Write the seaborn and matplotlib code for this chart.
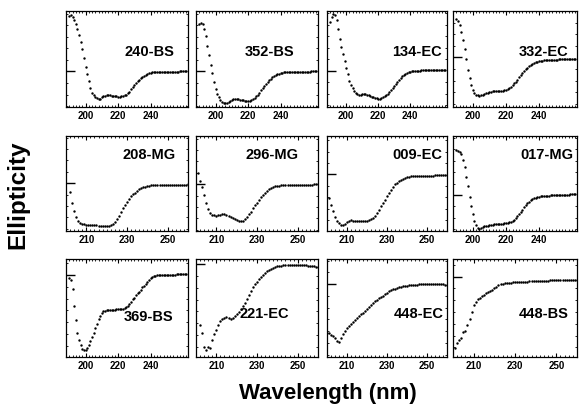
import numpy as np
import matplotlib
matplotlib.use("Agg")
import matplotlib.pyplot as plt
import seaborn as sns
from matplotlib.ticker import MultipleLocator

names = ["240-BS", "352-BS", "134-EC", "332-EC",
         "208-MG", "296-MG", "009-EC", "017-MG",
         "369-BS", "221-EC", "448-EC", "448-BS"]

# first wavelength (nm) of each trace, 1 nm steps
start_nm = [190, 190, 190, 190,
            202, 201, 201, 190,
            190, 202, 200, 201]

# level of the zero mark on the left axis (% of panel height)
zero_level = [37, 37, 37.7, 51.6,
              50.4, 49.3, 59.5, 37.9,
              83.6, 94.5, 74.4, 81.9]

bs240 = [94.8, 95.8, 94, 91, 86, 81, 75, 68, 60, 51, 42, 34, 27, 20, 15, 12, 10, 9, 8.5, 8.5,
         10, 11, 11, 12, 12, 12, 11.5, 11, 11, 11, 10.5, 10.5, 11, 11, 12, 13, 14.5, 16, 19, 21,
         23, 25, 27, 28, 30, 31.5, 32.5, 33.5, 34.5, 35, 35.5, 36,
         36.3, 36.5, 36.6, 36.6, 36.7, 36.7, 36.7, 36.8, 36.8, 36.8, 36.8, 36.9, 36.9, 36.9, 36.9,
         36.9, 37, 37, 37, 37, 37]
bs352 = [86, 88, 86, 81, 74, 64, 54, 44, 35, 26, 19, 14, 10, 7, 5.5, 4.5, 4, 4.5, 5.5, 6.5,
         7.5, 8, 8.5, 8.5, 8, 7.5, 7, 7, 6.5, 6.5, 6.5, 6.5, 7, 8, 9.5, 11, 13, 15, 17.5, 20,
         22, 24, 26, 28, 29.5, 31, 32, 33, 34, 34.5, 35, 35.5, 36,
         36.3, 36.5, 36.5, 36.6, 36.6, 36.7, 36.7, 36.7, 36.8, 36.8, 36.8, 36.8, 36.9, 36.9, 36.9,
         36.9, 37, 37, 37, 37]
ec134 = [89, 94, 97, 96, 91, 81, 71, 62, 55, 48, 41, 34, 27, 23, 20, 17, 15, 14, 13, 13,
         13.5, 14, 14, 12.5, 12, 11, 10.5, 10, 9.5, 9, 8.7, 8.5, 9, 10, 11, 12.5, 14, 16, 18, 20,
         22, 24, 26, 28.5, 30.5, 32, 33.5, 34.5, 35.5, 36, 36.5, 37, 37.5,
         37.8, 38, 38, 38, 38.1, 38.1, 38.1, 38.2, 38.2, 38.2, 38.2, 38.3, 38.3, 38.3, 38.3, 38.3,
         38.4, 38.4, 38.4, 38.4]
ec332 = [92, 89.5, 85.5, 78.5, 70, 60, 49.5, 39, 30, 23, 18, 15, 13, 12, 11.8, 12.3, 13, 14, 14.5, 15,
         15.5, 16, 17, 17, 17, 17, 17, 17, 17, 17.5, 18, 18.5, 19.5, 21, 23, 24.5, 26.5, 28.5, 31, 33,
         35.5, 37.5, 39.5, 41, 42.5, 44, 45, 46, 46.5, 47, 47.5, 48,
         48.3, 48.5, 48.6, 48.8, 48.9, 49, 49.1, 49.2, 49.3, 49.4, 49.5, 49.5, 49.6, 49.7, 49.8,
         49.8, 49.9, 50, 50, 50.1, 50.2]
mg208 = [41, 30, 21, 15, 11, 8.5, 7.5, 7, 6.5, 6.3, 6, 6, 6, 5.8, 5.7, 5.5, 5.2, 5, 5, 5.5,
         6.5, 7.5, 10, 12.5, 16, 20, 24, 27.5, 31, 34, 37, 39, 40.5, 42.5, 44, 45, 46, 46.8, 47.2, 47.6,
         48, 48.2, 48.3, 48.4, 48.5, 48.5, 48.6, 48.6, 48.7, 48.7, 48.7, 48.8, 48.8, 48.8, 48.9,
         48.9, 48.9, 48.9, 49]
mg296 = [61, 53, 46, 38, 30, 23, 19, 17, 16.5, 16.3, 16.5, 17, 17.5, 17.5, 17, 16, 15, 14, 13, 12,
         11, 10.6, 11, 13, 15, 17.5, 20.5, 24, 27, 30, 32.5, 35.5, 38, 40.5, 42.5, 44, 45.3, 46.3, 47,
         47.5, 47.8, 48,
         48.2, 48.3, 48.4, 48.5, 48.5, 48.6, 48.6, 48.7, 48.7, 48.8, 48.8, 48.8, 48.9, 48.9, 48.9,
         49, 49, 49]
ec009 = [35, 27, 21, 15, 11, 8, 6.7, 6.7, 7.5, 9, 10.5, 11.3, 11, 10.6, 10.5, 10.4, 10.3, 10.3, 10.3,
         10.8, 11.5, 12.5, 14, 16, 19, 22.5, 26, 29.5, 33, 37, 40.5, 43.5, 46.5, 49, 51, 52.5, 53.8,
         54.8, 56, 56.7, 57.2, 57.5,
         57.8, 57.9, 58, 58.1, 58.2, 58.2, 58.3, 58.3, 58.4, 58.4, 58.4, 58.5, 58.5, 58.5, 58.5,
         58.6, 58.6, 58.6]
mg017 = [85, 84.5, 83.5, 81, 75, 67, 57, 47, 36, 26, 18, 11, 6, 3.5, 2.5, 3, 4, 4.8, 5.2, 5.5,
         6, 6.5, 6.8, 7, 7.3, 7.6, 7.8, 7.8, 7.8, 8, 8.3, 8.7, 9.2, 10, 11, 12, 13.5, 15.5, 18, 20.5,
         22.5, 25, 27, 29, 30.8, 32.3, 33.5, 34.3, 35, 35.7, 36.2, 36.5,
         36.8, 37, 37.1, 37.2, 37.3, 37.4, 37.5, 37.6, 37.7, 37.8, 37.9, 38, 38, 38.1, 38.2, 38.3,
         38.4, 38.5, 38.5, 38.6, 38.6]
bs369 = [81, 79, 69, 52, 37.5, 25, 17, 12, 8.5, 7, 6.8, 9, 12.7, 16, 20, 25, 29.5, 34, 38.5, 42,
         45, 46.5, 47.2, 47.5, 47.7, 47.9, 48, 48.2, 48.4, 48.6, 48.8, 48.8, 49, 49.3, 49.7, 50.7, 52,
         54, 56.3, 58.7, 60.5, 63, 64.8, 66.6, 68.5, 71, 72.7, 75, 77, 78.8, 80.3, 81.7, 82.6,
         83, 83.3, 83.5, 83.6, 83.7, 83.8, 83.8, 83.9, 83.9, 84, 84, 84.1, 84.1, 84.2, 84.2, 84.3,
         84.3, 84.4, 84.5, 84.5]
ec221 = [33, 24, 10, 7.5, 10.5, 9.5, 17, 23, 28, 33, 36.5, 38.5, 40, 41, 40, 39.2, 39.8, 41.5, 43.5,
         46, 49, 52, 55.5, 59, 63, 67, 71, 74, 76.8, 79.5, 82, 84, 86, 87.5, 89, 90, 91, 91.8, 92.4,
         92.8, 93.2, 93.5, 93.7, 93.9, 94, 94.2, 94.3, 94.3, 94.2, 94.1, 94, 93.8, 93.5, 93.2, 93,
         92.7, 92.5, 92.3, 92.2]
ec448 = [25, 24, 22.5, 21, 19, 16.5, 15.5, 19, 23, 26.5, 29.5, 32, 34, 36, 38, 39.5, 41.5, 43.5, 45,
         47, 49, 51, 53.5, 55.5, 57, 58.5, 60, 61.3, 62.5, 64, 65.5, 67, 68, 69, 69.7, 70.3, 71, 71.5,
         72, 72.4, 72.8, 73.1, 73.4,
         73.6, 73.8, 73.9, 74, 74.1, 74.2, 74.3, 74.4, 74.4, 74.4, 74.4, 74.4, 74.3, 74.2, 74.1,
         74, 73.9, 73.7]
bs448 = [9, 14, 17.5, 19, 25, 27, 33, 38.5, 46, 53, 56.5, 59, 60.3, 62, 63.3, 64.8, 66.2, 67.4, 68.8,
         70.3, 71.8, 73, 74, 74.5, 75, 75.3, 75.6, 75.9, 76.1, 76.3, 76.5,
         76.6, 76.7, 76.8, 76.9, 77, 77.1, 77.2, 77.3, 77.4, 77.5, 77.6, 77.7, 77.8, 77.9, 78,
         78.1, 78.2, 78.3, 78.4, 78.5, 78.6, 78.7, 78.8, 78.9, 79, 79, 78.9, 78.7, 78.5]

spectra = [bs240, bs352, ec134, ec332, mg208, mg296, ec009, mg017, bs369, ec221, ec448, bs448]

# which panels have the 190-260 axis (ticks 200/220/240); the rest run 200-260
wide_axis = [True, True, True, True, False, False, False, True, True, False, False, False]
ticks_wide = [200, 220, 240]
ticks_narrow = [210, 230, 250]

sns.set_style("ticks")
plt.rcParams['font.family'] = ['Liberation Sans', 'DejaVu Sans']
plt.rcParams['text.color'] = 'black'
plt.rcParams['xtick.color'] = 'black'
plt.rcParams['ytick.color'] = 'black'
plt.rcParams['axes.edgecolor'] = 'black'

W, H = 582, 418
fig = plt.figure(figsize=(W / 100, H / 100), dpi=100)

# panel boxes in pixels
col_left = [66, 196, 327, 453]
col_width = [122, 122, 120, 124]
row_top = [11, 136, 259]
row_bottom = [107, 231, 357]
# label anchor (right edge x, centre y) as axes fractions
label_pos = [(0.89, 0.57), (0.81, 0.57), (0.96, 0.57), (0.93, 0.57),
             (0.90, 0.80), (0.84, 0.80), (0.96, 0.80), (0.97, 0.80),
             (0.88, 0.41), (0.76, 0.44), (0.97, 0.44), (0.93, 0.44)]

for i, name in enumerate(names):
    r, c = divmod(i, 4)
    ax = fig.add_axes([col_left[c] / W, 1 - row_bottom[r] / H,
                       col_width[c] / W, (row_bottom[r] - row_top[r]) / H])
    wl = np.arange(start_nm[i], start_nm[i] + len(spectra[i]))
    ell = np.array(spectra[i]) - zero_level[i]
    sns.scatterplot(x=wl, y=ell, ax=ax, s=3, color="black", linewidth=0,
                    marker="o", legend=False)

    if wide_axis[i]:
        ax.set_xlim(188, 263)
        ax.set_xticks(ticks_wide)
    else:
        ax.set_xlim(200, 260)
        ax.set_xticks(ticks_narrow)
    ax.set_xticklabels([str(t) for t in ax.get_xticks()], fontsize=7, fontweight="bold")
    ax.xaxis.set_minor_locator(MultipleLocator(2))

    ax.set_ylim(-zero_level[i], 100 - zero_level[i])
    ax.set_yticks([0])
    ax.set_yticklabels([])
    ax.yaxis.set_minor_locator(MultipleLocator(12))

    ax.tick_params(axis="x", which="major", direction="in", top=True, bottom=True,
                   length=3, width=0.8, pad=3, colors="black")
    ax.tick_params(axis="x", which="minor", direction="in", top=True, bottom=True,
                   length=1.5, width=0.6)
    ax.tick_params(axis="y", which="major", direction="in", left=True, right=False,
                   length=6.5, width=1.0)
    ax.tick_params(axis="y", which="minor", direction="in", left=True, right=True,
                   length=1.5, width=0.6)
    for sp in ax.spines.values():
        sp.set_linewidth(0.9)
        sp.set_color("black")
    ax.set_xlabel("")
    ax.set_ylabel("")

    lx, ly = label_pos[i]
    ax.text(lx, ly, name, transform=ax.transAxes, ha="right", va="center",
            fontsize=10.5, fontweight="bold", color="black")

fig.text(18 / W, 1 - 195 / H, "Ellipticity", rotation=90, ha="center", va="center",
         fontsize=17.5, fontweight="bold", color="black")
fig.text(328 / W, 1 - 393 / H, "Wavelength (nm)", ha="center", va="center",
         fontsize=16, fontweight="bold", color="black")

fig.savefig("out.png", dpi=100)
